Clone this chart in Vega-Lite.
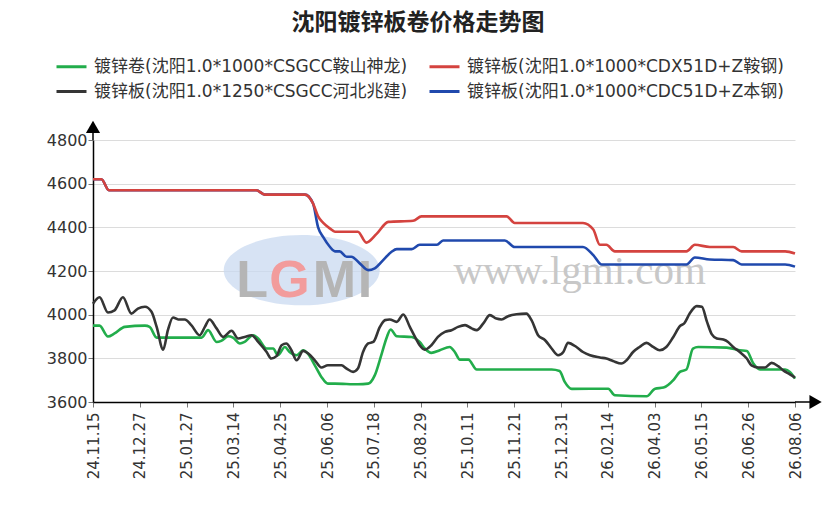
{
  "$schema": "https://vega.github.io/schema/vega-lite/v6.json",
  "width": 702,
  "height": 262,
  "autosize": {"type": "none"},
  "padding": {"left": 93, "top": 140, "right": 35, "bottom": 121},
  "background": "white",
  "title": {
    "text": "沈阳镀锌板卷价格走势图",
    "font": "Noto Sans CJK SC",
    "fontSize": 23,
    "fontWeight": "bold",
    "color": "#222222",
    "anchor": "middle",
    "frame": "group",
    "dx": -26,
    "offset": 15
  },
  "config": {
    "view": {"stroke": null},
    "axis": {
      "domainColor": "#000000",
      "domainWidth": 1.5,
      "tickColor": "#777777",
      "tickSize": 5,
      "labelColor": "#333333",
      "labelFont": "DejaVu Sans",
      "titleFontSize": 0
    },
    "axisX": {"grid": false, "labelAngle": -90, "labelFontSize": 15, "labelPadding": 5},
    "axisY": {"grid": true, "gridColor": "#dcdcdc", "gridWidth": 1, "labelFontSize": 16, "labelPadding": 1},
    "legend": {
      "orient": "none",
      "legendX": -38,
      "legendY": -90,
      "columns": 2,
      "columnPadding": 15,
      "rowPadding": -15,
      "symbolType": "stroke",
      "symbolSize": 900,
      "symbolStrokeWidth": 3,
      "labelFont": "DejaVu Sans, Noto Sans CJK SC",
      "labelFontSize": 17,
      "labelColor": "#333333",
      "labelOffset": 6,
      "labelLimit": 0
    }
  },
  "layer": [
    {
      "data": {"values": [{}]},
      "mark": {"type": "point", "shape": "M -1 0 A 1 0.45 0 1 0 1 0 A 1 0.45 0 1 0 -1 0 Z", "filled": true, "fill": "#c9daf0", "opacity": 0.75, "size": 24336},
      "encoding": {
        "x": {"datum": 4.46, "type": "quantitative", "scale": {"domain": [0, 15], "nice": false, "zero": false}, "title": null},
        "y": {"datum": 4204, "type": "quantitative", "scale": {"domain": [3600, 4800], "nice": false, "zero": false}, "title": null}
      }
    },
    {
      "data": {"values": [{"t": 3.4, "v": 4080, "c": "L"}, {"t": 5.16, "v": 4080, "c": "M"}, {"t": 5.81, "v": 4080, "c": "I"}]},
      "mark": {"type": "text", "font": "Liberation Sans", "fontWeight": "bold", "fontSize": 52, "fill": "#b5b5b5", "align": "center", "baseline": "alphabetic"},
      "encoding": {
        "x": {"field": "t", "type": "quantitative", "title": null},
        "y": {"field": "v", "type": "quantitative", "title": null},
        "text": {"field": "c"}
      }
    },
    {
      "data": {"values": [{"t": 4.2, "v": 4080, "c": "G"}]},
      "mark": {"type": "text", "font": "Liberation Sans", "fontWeight": "bold", "fontSize": 52, "fill": "#f29c9c", "align": "center", "baseline": "alphabetic"},
      "encoding": {
        "x": {"field": "t", "type": "quantitative", "title": null},
        "y": {"field": "v", "type": "quantitative", "title": null},
        "text": {"field": "c"}
      }
    },
    {
      "data": {"values": [{"t": 10.4, "v": 4195, "c": "www.lgmi.com"}]},
      "mark": {"type": "text", "font": "Liberation Serif", "fontSize": 41, "fill": "#c8c8c8", "align": "center", "baseline": "middle"},
      "encoding": {
        "x": {"field": "t", "type": "quantitative", "title": null},
        "y": {"field": "v", "type": "quantitative", "title": null},
        "text": {"field": "c"}
      }
    },
    {
      "data": {"values": [
        {"s":"g","t":0,"v":3950},{"s":"g","t":0.14,"v":3950},{"s":"g","t":0.32,"v":3900},{"s":"g","t":0.46,"v":3914},{"s":"g","t":0.68,"v":3944},{"s":"g","t":1.11,"v":3950},{"s":"g","t":1.21,"v":3944},{"s":"g","t":1.36,"v":3895},{"s":"g","t":1.6,"v":3895},{"s":"g","t":2.32,"v":3895},{"s":"g","t":2.46,"v":3929},{"s":"g","t":2.64,"v":3875},{"s":"g","t":2.74,"v":3880},{"s":"g","t":2.89,"v":3901},{"s":"g","t":2.99,"v":3895},{"s":"g","t":3.14,"v":3868},{"s":"g","t":3.24,"v":3875},{"s":"g","t":3.42,"v":3906},{"s":"g","t":3.53,"v":3891},{"s":"g","t":3.71,"v":3845},{"s":"g","t":3.85,"v":3845},{"s":"g","t":3.95,"v":3814},{"s":"g","t":4.1,"v":3852},{"s":"g","t":4.2,"v":3829},{"s":"g","t":4.35,"v":3814},{"s":"g","t":4.49,"v":3837},{"s":"g","t":4.6,"v":3819},{"s":"g","t":4.74,"v":3768},{"s":"g","t":4.88,"v":3715},{"s":"g","t":5.02,"v":3684},{"s":"g","t":5.17,"v":3684},{"s":"g","t":5.66,"v":3681},{"s":"g","t":5.88,"v":3684},{"s":"g","t":6.02,"v":3722},{"s":"g","t":6.17,"v":3822},{"s":"g","t":6.28,"v":3898},{"s":"g","t":6.36,"v":3932},{"s":"g","t":6.49,"v":3901},{"s":"g","t":6.81,"v":3898},{"s":"g","t":6.98,"v":3875},{"s":"g","t":7.09,"v":3845},{"s":"g","t":7.23,"v":3825},{"s":"g","t":7.41,"v":3837},{"s":"g","t":7.62,"v":3852},{"s":"g","t":7.73,"v":3829},{"s":"g","t":7.84,"v":3794},{"s":"g","t":8.02,"v":3794},{"s":"g","t":8.2,"v":3749},{"s":"g","t":8.34,"v":3749},{"s":"g","t":9.8,"v":3749},{"s":"g","t":9.97,"v":3742},{"s":"g","t":10.08,"v":3692},{"s":"g","t":10.23,"v":3660},{"s":"g","t":11.01,"v":3661},{"s":"g","t":11.15,"v":3631},{"s":"g","t":11.83,"v":3626},{"s":"g","t":12.01,"v":3661},{"s":"g","t":12.19,"v":3666},{"s":"g","t":12.4,"v":3700},{"s":"g","t":12.54,"v":3738},{"s":"g","t":12.68,"v":3749},{"s":"g","t":12.82,"v":3845},{"s":"g","t":12.93,"v":3852},{"s":"g","t":13.54,"v":3849},{"s":"g","t":13.82,"v":3837},{"s":"g","t":13.97,"v":3834},{"s":"g","t":14.11,"v":3776},{"s":"g","t":14.25,"v":3749},{"s":"g","t":14.79,"v":3749},{"s":"g","t":14.89,"v":3738},{"s":"g","t":15,"v":3707},
        {"s":"k","t":0,"v":4050},{"s":"k","t":0.14,"v":4080},{"s":"k","t":0.32,"v":4010},{"s":"k","t":0.46,"v":4020},{"s":"k","t":0.64,"v":4080},{"s":"k","t":0.82,"v":4005},{"s":"k","t":0.96,"v":4028},{"s":"k","t":1.11,"v":4036},{"s":"k","t":1.25,"v":4013},{"s":"k","t":1.36,"v":3944},{"s":"k","t":1.5,"v":3840},{"s":"k","t":1.6,"v":3929},{"s":"k","t":1.71,"v":3987},{"s":"k","t":1.82,"v":3978},{"s":"k","t":1.96,"v":3978},{"s":"k","t":2.1,"v":3952},{"s":"k","t":2.28,"v":3906},{"s":"k","t":2.39,"v":3944},{"s":"k","t":2.49,"v":3978},{"s":"k","t":2.64,"v":3937},{"s":"k","t":2.78,"v":3898},{"s":"k","t":2.96,"v":3926},{"s":"k","t":3.1,"v":3891},{"s":"k","t":3.24,"v":3898},{"s":"k","t":3.39,"v":3906},{"s":"k","t":3.53,"v":3875},{"s":"k","t":3.71,"v":3829},{"s":"k","t":3.81,"v":3799},{"s":"k","t":3.92,"v":3810},{"s":"k","t":4.03,"v":3860},{"s":"k","t":4.13,"v":3868},{"s":"k","t":4.24,"v":3837},{"s":"k","t":4.35,"v":3791},{"s":"k","t":4.49,"v":3834},{"s":"k","t":4.6,"v":3822},{"s":"k","t":4.74,"v":3791},{"s":"k","t":4.88,"v":3758},{"s":"k","t":5.02,"v":3768},{"s":"k","t":5.31,"v":3768},{"s":"k","t":5.42,"v":3753},{"s":"k","t":5.56,"v":3738},{"s":"k","t":5.66,"v":3753},{"s":"k","t":5.77,"v":3829},{"s":"k","t":5.88,"v":3868},{"s":"k","t":5.99,"v":3875},{"s":"k","t":6.13,"v":3944},{"s":"k","t":6.24,"v":3975},{"s":"k","t":6.34,"v":3978},{"s":"k","t":6.49,"v":3967},{"s":"k","t":6.63,"v":4001},{"s":"k","t":6.77,"v":3944},{"s":"k","t":6.88,"v":3898},{"s":"k","t":6.98,"v":3860},{"s":"k","t":7.09,"v":3840},{"s":"k","t":7.23,"v":3860},{"s":"k","t":7.37,"v":3898},{"s":"k","t":7.52,"v":3921},{"s":"k","t":7.66,"v":3929},{"s":"k","t":7.8,"v":3944},{"s":"k","t":7.95,"v":3952},{"s":"k","t":8.09,"v":3937},{"s":"k","t":8.2,"v":3929},{"s":"k","t":8.34,"v":3960},{"s":"k","t":8.48,"v":3998},{"s":"k","t":8.62,"v":3982},{"s":"k","t":8.73,"v":3978},{"s":"k","t":8.87,"v":3993},{"s":"k","t":9.05,"v":4002},{"s":"k","t":9.26,"v":4005},{"s":"k","t":9.37,"v":3975},{"s":"k","t":9.51,"v":3906},{"s":"k","t":9.66,"v":3883},{"s":"k","t":9.8,"v":3845},{"s":"k","t":9.94,"v":3814},{"s":"k","t":10.05,"v":3829},{"s":"k","t":10.15,"v":3871},{"s":"k","t":10.33,"v":3852},{"s":"k","t":10.47,"v":3829},{"s":"k","t":10.62,"v":3814},{"s":"k","t":10.83,"v":3804},{"s":"k","t":10.97,"v":3799},{"s":"k","t":11.11,"v":3788},{"s":"k","t":11.29,"v":3776},{"s":"k","t":11.4,"v":3791},{"s":"k","t":11.54,"v":3829},{"s":"k","t":11.68,"v":3852},{"s":"k","t":11.83,"v":3871},{"s":"k","t":11.97,"v":3852},{"s":"k","t":12.11,"v":3837},{"s":"k","t":12.25,"v":3852},{"s":"k","t":12.4,"v":3898},{"s":"k","t":12.54,"v":3947},{"s":"k","t":12.64,"v":3962},{"s":"k","t":12.75,"v":4005},{"s":"k","t":12.9,"v":4039},{"s":"k","t":13.01,"v":4036},{"s":"k","t":13.12,"v":3967},{"s":"k","t":13.22,"v":3911},{"s":"k","t":13.33,"v":3891},{"s":"k","t":13.47,"v":3886},{"s":"k","t":13.57,"v":3875},{"s":"k","t":13.68,"v":3852},{"s":"k","t":13.82,"v":3829},{"s":"k","t":13.97,"v":3799},{"s":"k","t":14.07,"v":3768},{"s":"k","t":14.22,"v":3758},{"s":"k","t":14.36,"v":3758},{"s":"k","t":14.5,"v":3779},{"s":"k","t":14.64,"v":3764},{"s":"k","t":14.75,"v":3745},{"s":"k","t":14.89,"v":3727},{"s":"k","t":15,"v":3712},
        {"s":"b","t":0,"v":4620},{"s":"b","t":0.18,"v":4620},{"s":"b","t":0.34,"v":4570},{"s":"b","t":3.49,"v":4570},{"s":"b","t":3.67,"v":4550},{"s":"b","t":4.53,"v":4550},{"s":"b","t":4.7,"v":4510},{"s":"b","t":4.81,"v":4400},{"s":"b","t":4.92,"v":4355},{"s":"b","t":5.06,"v":4311},{"s":"b","t":5.17,"v":4290},{"s":"b","t":5.27,"v":4290},{"s":"b","t":5.42,"v":4265},{"s":"b","t":5.52,"v":4265},{"s":"b","t":5.7,"v":4235},{"s":"b","t":5.88,"v":4204},{"s":"b","t":6.02,"v":4212},{"s":"b","t":6.2,"v":4250},{"s":"b","t":6.38,"v":4288},{"s":"b","t":6.49,"v":4300},{"s":"b","t":6.81,"v":4300},{"s":"b","t":6.98,"v":4320},{"s":"b","t":7.35,"v":4320},{"s":"b","t":7.48,"v":4340},{"s":"b","t":8.8,"v":4340},{"s":"b","t":9.01,"v":4310},{"s":"b","t":10.47,"v":4310},{"s":"b","t":10.69,"v":4273},{"s":"b","t":10.87,"v":4230},{"s":"b","t":12.68,"v":4230},{"s":"b","t":12.86,"v":4262},{"s":"b","t":13.18,"v":4253},{"s":"b","t":13.68,"v":4250},{"s":"b","t":13.86,"v":4230},{"s":"b","t":14.79,"v":4230},{"s":"b","t":15,"v":4220},
        {"s":"r","t":0,"v":4620},{"s":"r","t":0.18,"v":4620},{"s":"r","t":0.34,"v":4570},{"s":"r","t":3.49,"v":4570},{"s":"r","t":3.67,"v":4550},{"s":"r","t":4.53,"v":4550},{"s":"r","t":4.7,"v":4510},{"s":"r","t":4.81,"v":4450},{"s":"r","t":4.92,"v":4420},{"s":"r","t":5.06,"v":4395},{"s":"r","t":5.17,"v":4380},{"s":"r","t":5.66,"v":4380},{"s":"r","t":5.84,"v":4330},{"s":"r","t":6.06,"v":4370},{"s":"r","t":6.31,"v":4425},{"s":"r","t":6.84,"v":4430},{"s":"r","t":7.02,"v":4450},{"s":"r","t":8.84,"v":4450},{"s":"r","t":9.01,"v":4420},{"s":"r","t":10.47,"v":4420},{"s":"r","t":10.69,"v":4390},{"s":"r","t":10.83,"v":4320},{"s":"r","t":10.97,"v":4320},{"s":"r","t":11.15,"v":4290},{"s":"r","t":12.68,"v":4290},{"s":"r","t":12.86,"v":4320},{"s":"r","t":13.18,"v":4310},{"s":"r","t":13.68,"v":4310},{"s":"r","t":13.86,"v":4290},{"s":"r","t":14.79,"v":4290},{"s":"r","t":15,"v":4280}
      ]},
      "mark": {"type": "line", "interpolate": "monotone", "strokeWidth": 2.6},
      "encoding": {
        "x": {
          "field": "t",
          "type": "quantitative",
          "title": null,
          "axis": {
            "values": [0, 1, 2, 3, 4, 5, 6, 7, 8, 9, 10, 11, 12, 13, 14, 15],
            "labelExpr": "['24.11.15','24.12.27','25.01.27','25.03.14','25.04.25','25.06.06','25.07.18','25.08.29','25.10.11','25.11.21','25.12.31','26.02.14','26.04.03','26.05.15','26.06.26','26.08.06'][datum.value]"
          }
        },
        "y": {
          "field": "v",
          "type": "quantitative",
          "title": null,
          "axis": {"values": [3600, 3800, 4000, 4200, 4400, 4600, 4800], "format": "d"}
        },
        "color": {
          "field": "s",
          "type": "nominal",
          "title": null,
          "scale": {"domain": ["g", "k", "r", "b"], "range": ["#22ad4b", "#353535", "#d4433f", "#2049ad"]},
          "legend": {
            "labelExpr": "{'g': '镀锌卷(沈阳1.0*1000*CSGCC鞍山神龙)', 'r': '镀锌板(沈阳1.0*1000*CDX51D+Z鞍钢)', 'k': '镀锌板(沈阳1.0*1250*CSGCC河北兆建)', 'b': '镀锌板(沈阳1.0*1000*CDC51D+Z本钢)'}[datum.label]"
          }
        }
      }
    },
    {
      "data": {"values": [{"t": 0, "v": 4800, "v2": 4855}]},
      "mark": {"type": "rule", "color": "#000000", "strokeWidth": 1.5},
      "encoding": {
        "x": {"field": "t", "type": "quantitative", "title": null},
        "y": {"field": "v", "type": "quantitative", "title": null},
        "y2": {"field": "v2"}
      }
    },
    {
      "data": {"values": [{"t": 15, "t2": 15.4, "v": 3600}]},
      "mark": {"type": "rule", "color": "#000000", "strokeWidth": 1.5},
      "encoding": {
        "x": {"field": "t", "type": "quantitative", "title": null},
        "x2": {"field": "t2"},
        "y": {"field": "v", "type": "quantitative", "title": null}
      }
    },
    {
      "data": {"values": [{"t": 0, "v": 4860}]},
      "mark": {"type": "point", "shape": "triangle-up", "filled": true, "fill": "#000000", "opacity": 1, "size": 200},
      "encoding": {
        "x": {"field": "t", "type": "quantitative", "title": null},
        "y": {"field": "v", "type": "quantitative", "title": null}
      }
    },
    {
      "data": {"values": [{"t": 15.44, "v": 3600}]},
      "mark": {"type": "point", "shape": "triangle-right", "filled": true, "fill": "#000000", "opacity": 1, "size": 200},
      "encoding": {
        "x": {"field": "t", "type": "quantitative", "title": null},
        "y": {"field": "v", "type": "quantitative", "title": null}
      }
    }
  ]
}
